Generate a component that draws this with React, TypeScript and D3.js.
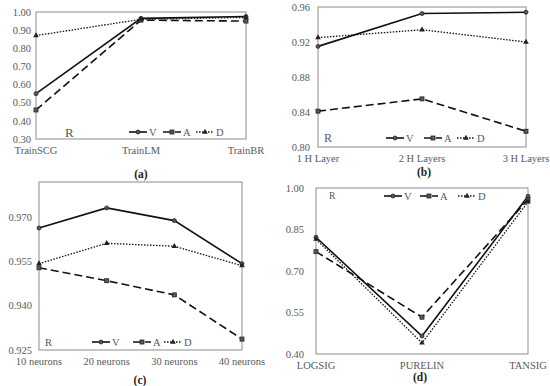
import React from "react";
import * as d3 from "d3";

// panel (a) training functions
const catA = ["TrainSCG", "TrainLM", "TrainBR"];
const vA = [0.55, 0.965, 0.975];
const aA = [0.46, 0.955, 0.95];
const dA = [0.87, 0.96, 0.97];
const ticksA = [0.3, 0.4, 0.5, 0.6, 0.7, 0.8, 0.9, 1.0];

// panel (b) hidden layers
const catB = ["1 H Layer", "2 H Layers", "3 H Layers"];
const vB = [0.915, 0.9525, 0.954];
const aB = [0.841, 0.855, 0.818];
const dB = [0.925, 0.934, 0.92];
const ticksB = [0.8, 0.84, 0.88, 0.92, 0.96];

// panel (c) neurons
const catC = ["10 neurons", "20 neurons", "30 neurons", "40 neurons"];
const vC = [0.9664, 0.9732, 0.9689, 0.9543];
const aC = [0.9529, 0.9485, 0.9437, 0.9287];
const dC = [0.9543, 0.9612, 0.9602, 0.9536];
const ticksC = [0.925, 0.94, 0.955, 0.97];

// panel (d) transfer functions
const catD = ["LOGSIG", "PURELIN", "TANSIG"];
const vD = [0.822, 0.465, 0.97];
const aD = [0.77, 0.533, 0.958];
const dD = [0.815, 0.44, 0.95];
const ticksD = [0.4, 0.55, 0.7, 0.85, 1.0];

const seriesNames = ["V", "A", "D"];

const font = "Liberation Serif, Times New Roman, DejaVu Serif, serif";
const gray = "#595959";

const styles: any = {
  V: { dash: null, width: 1.6 },
  A: { dash: "8,4", width: 1.6 },
  D: { dash: "1.5,1.5", width: 1.3 },
};

const Marker = ({ name, x, y }: any) => {
  if (name === "V") return <circle cx={x} cy={y} r={2} fill={gray} stroke="#222" strokeWidth={0.8} />;
  if (name === "A") return <rect x={x - 2} y={y - 2} width={4} height={4} fill={gray} stroke="#222" strokeWidth={0.8} />;
  return <path d={d3.symbol(d3.symbolTriangle, 14)() || ""} transform={`translate(${x},${y})`} fill="#222" />;
};

const Panel = (props: any) => {
  const { cats, values, ticks, fmt, x0, x1, y0, y1, domain, tickGap, legend, rSize, caption } = props;
  const x = d3.scalePoint().domain(cats).range([x0, x1]).padding(0);
  const y = d3.scaleLinear().domain(domain).range([y1, y0]);
  const line = d3.line<number>().x((d, i) => x(cats[i]) as number).y(d => y(d));

  return (
    <g style={{ fontFamily: font }}>
      <rect x={x0} y={y0} width={x1 - x0} height={y1 - y0} fill="none" stroke="#8c8c8c" strokeWidth={1} />
      {ticks.map((t: number) => (
        <text key={t} x={x0 - tickGap} y={y(t)} dy="0.35em" textAnchor="end" fontSize={10.5} fill={gray}>
          {d3.format(fmt)(t)}
        </text>
      ))}
      {cats.map((c: string) => (
        <text key={c} x={x(c)} y={y1 + 15} textAnchor="middle" fontSize={10.5} fill={gray}>
          {c}
        </text>
      ))}
      {seriesNames.map((s, k) => (
        <g key={s}>
          <path d={line(values[k]) || ""} fill="none" stroke="#111" strokeWidth={styles[s].width}
            strokeDasharray={styles[s].dash || undefined} />
          {values[k].map((v: number, i: number) => (
            <Marker key={i} name={s} x={x(cats[i])} y={y(v)} />
          ))}
        </g>
      ))}
      <text x={legend.r} y={legend.y} dy="0.35em" fontSize={rSize} fill={gray}>R</text>
      {seriesNames.map((s, k) => {
        const lx = legend.xs[k];
        return (
          <g key={s}>
            <line x1={lx} x2={lx + 18} y1={legend.y} y2={legend.y} stroke="#111" strokeWidth={styles[s].width}
              strokeDasharray={styles[s].dash || undefined} />
            <Marker name={s} x={lx + 9} y={legend.y} />
            <text x={lx + 20} y={legend.y} dy="0.35em" fontSize={10.5} fill={gray}>{s}</text>
          </g>
        );
      })}
      <text x={caption.x} y={caption.y} textAnchor="middle" fontSize={11.5} fontWeight="bold" fill="#222">
        {caption.t}
      </text>
    </g>
  );
};

export default function App() {
  return (
    <svg width={550} height={386} style={{ position: "absolute", left: 0, top: 0, background: "#fff" }}>
      <Panel cats={catA} values={[vA, aA, dA]} ticks={ticksA} fmt=".2f" x0={36} x1={246} y0={12} y1={139}
        domain={[0.3, 1.0]} tickGap={5} rSize={13}
        legend={{ r: 65, y: 132, xs: [129, 163, 196] }} caption={{ x: 141, y: 178, t: "(a)" }} />
      <Panel cats={catB} values={[vB, aB, dB]} ticks={ticksB} fmt=".2f" x0={318} x1={526} y0={7} y1={147}
        domain={[0.8, 0.96]} tickGap={8} rSize={12}
        legend={{ r: 324, y: 138, xs: [386, 424, 457] }} caption={{ x: 424, y: 176, t: "(b)" }} />
      <Panel cats={catC} values={[vC, aC, dC]} ticks={ticksC} fmt=".3f" x0={39} x1={242} y0={182} y1={350}
        domain={[0.925, 0.982]} tickGap={7} rSize={10.5}
        legend={{ r: 45, y: 342, xs: [92, 133, 164] }} caption={{ x: 140, y: 384, t: "(c)" }} />
      <Panel cats={catD} values={[vD, aD, dD]} ticks={ticksD} fmt=".2f" x0={316} x1={528} y0={188} y1={354}
        domain={[0.4, 1.0]} tickGap={12} rSize={9.5}
        legend={{ r: 329, y: 196, xs: [384, 420, 458] }} caption={{ x: 420, y: 381, t: "(d)" }} />
    </svg>
  );
}
